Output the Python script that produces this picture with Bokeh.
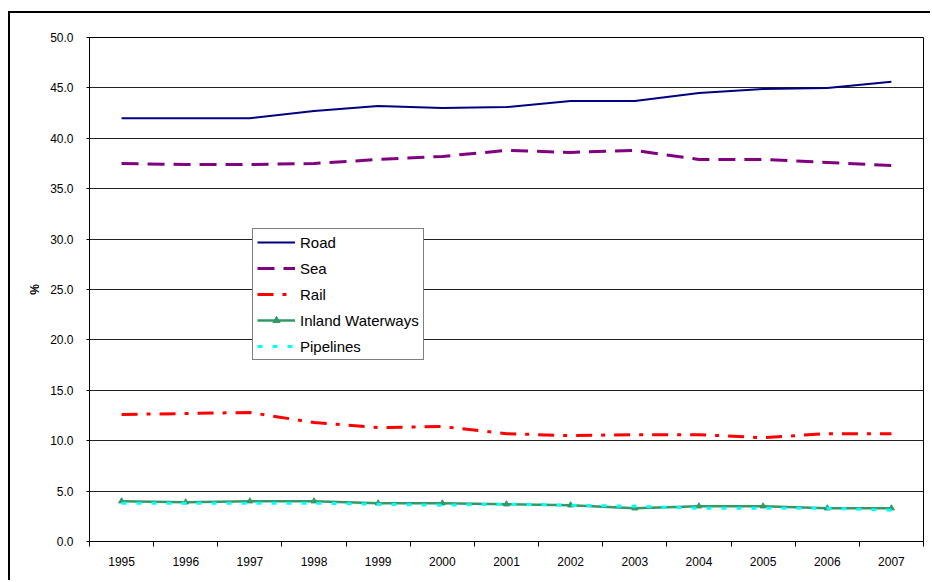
from bokeh.plotting import figure
from bokeh.models import (FixedTicker, NumeralTickFormatter, Legend, LegendItem)
from bokeh.embed import file_html
from bokeh.resources import INLINE

# Modal split of freight transport (%), 1995-2007
years = [1995, 1996, 1997, 1998, 1999, 2000, 2001, 2002, 2003, 2004, 2005, 2006, 2007]
road = [42.0, 42.0, 42.0, 42.7, 43.2, 43.0, 43.1, 43.7, 43.7, 44.5, 44.9, 45.0, 45.6]
sea = [37.5, 37.4, 37.4, 37.5, 37.9, 38.2, 38.8, 38.6, 38.8, 37.9, 37.9, 37.6, 37.3]
rail = [12.6, 12.7, 12.8, 11.8, 11.3, 11.4, 10.7, 10.5, 10.6, 10.6, 10.3, 10.7, 10.7]
inland = [4.0, 3.9, 4.0, 4.0, 3.8, 3.8, 3.7, 3.6, 3.3, 3.5, 3.5, 3.3, 3.3]
pipelines = [3.8, 3.8, 3.8, 3.8, 3.7, 3.6, 3.7, 3.6, 3.5, 3.3, 3.3, 3.3, 3.1]
y_ticks = [0, 5, 10, 15, 20, 25, 30, 35, 40, 45, 50]

FONT = "Liberation Sans"

p = figure(width=922, height=569, output_backend="svg", toolbar_location=None,
           x_range=(years[0] - 0.5, years[-1] + 0.5), y_range=(0, 50),
           min_border_left=79, min_border_right=9, min_border_top=24, min_border_bottom=41)
p.styles = {"margin-left": "8px", "margin-top": "11px",
            "border-left": "2px solid black", "border-top": "2px solid black"}

p.background_fill_color = "white"
p.border_fill_color = "white"
p.outline_line_color = "black"
p.outline_line_width = 1

# axes
xax = p.xaxis[0]
xax.ticker = FixedTicker(ticks=years, minor_ticks=[y - 0.5 for y in years] + [years[-1] + 0.5])
xax.major_tick_out = 0
xax.major_tick_in = 0
xax.minor_tick_out = 5
xax.minor_tick_in = 0
xax.minor_tick_line_color = "black"
xax.axis_line_color = "black"
xax.major_label_standoff = 10
xax.major_label_text_font = FONT
xax.major_label_text_font_size = "12px"
xax.major_label_text_color = "black"

yax = p.yaxis[0]
yax.ticker = FixedTicker(ticks=y_ticks)
yax.formatter = NumeralTickFormatter(format="0.0")
yax.major_tick_out = 3
yax.major_tick_in = 0
yax.minor_tick_out = 0
yax.minor_tick_in = 0
yax.major_tick_line_color = "black"
yax.axis_line_color = "black"
yax.major_label_standoff = 13
yax.major_label_text_font = FONT
yax.major_label_text_font_size = "12px"
yax.major_label_text_color = "black"
yax.axis_label = "%"
yax.axis_label_text_font = FONT
yax.axis_label_text_font_size = "12px"
yax.axis_label_text_font_style = "bold"
yax.axis_label_text_color = "black"
yax.axis_label_standoff = 5

p.xgrid.grid_line_color = None
p.ygrid.grid_line_color = "#222222"
p.ygrid.grid_line_width = 1

# series
r_road = p.line(years, road, line_color="#000080", line_width=2)
r_sea = p.line(years, sea, line_color="#800080", line_width=3, line_dash="17 9")
r_rail = p.line(years, rail, line_color="#FF0000", line_width=3, line_dash="16 9 4 9")
r_inl = p.line(years, inland, line_color="#339966", line_width=2.5)
r_inl_m = p.scatter(years, inland, marker="triangle", size=6, fill_color="#339966",
                    line_color="#339966")
r_pipe = p.line(years, pipelines, line_color="#00FFFF", line_width=3, line_dash="5 10")

legend = Legend(items=[
    LegendItem(label="Road", renderers=[r_road]),
    LegendItem(label="Sea", renderers=[r_sea]),
    LegendItem(label="Rail", renderers=[r_rail]),
    LegendItem(label="Inland Waterways", renderers=[r_inl, r_inl_m]),
    LegendItem(label="Pipelines", renderers=[r_pipe]),
], location=(163, 181))
legend.label_text_font = FONT
legend.label_text_font_size = "15px"
legend.label_text_color = "black"
legend.glyph_width = 38
legend.glyph_height = 18
legend.label_height = 18
legend.label_standoff = 5
legend.spacing = 8
legend.padding = 4
legend.margin = 0
legend.border_line_color = "black"
legend.border_line_width = 1
legend.background_fill_color = "white"
legend.background_fill_alpha = 1
p.add_layout(legend, "center")

open("out.html", "w").write(file_html(p, INLINE))
